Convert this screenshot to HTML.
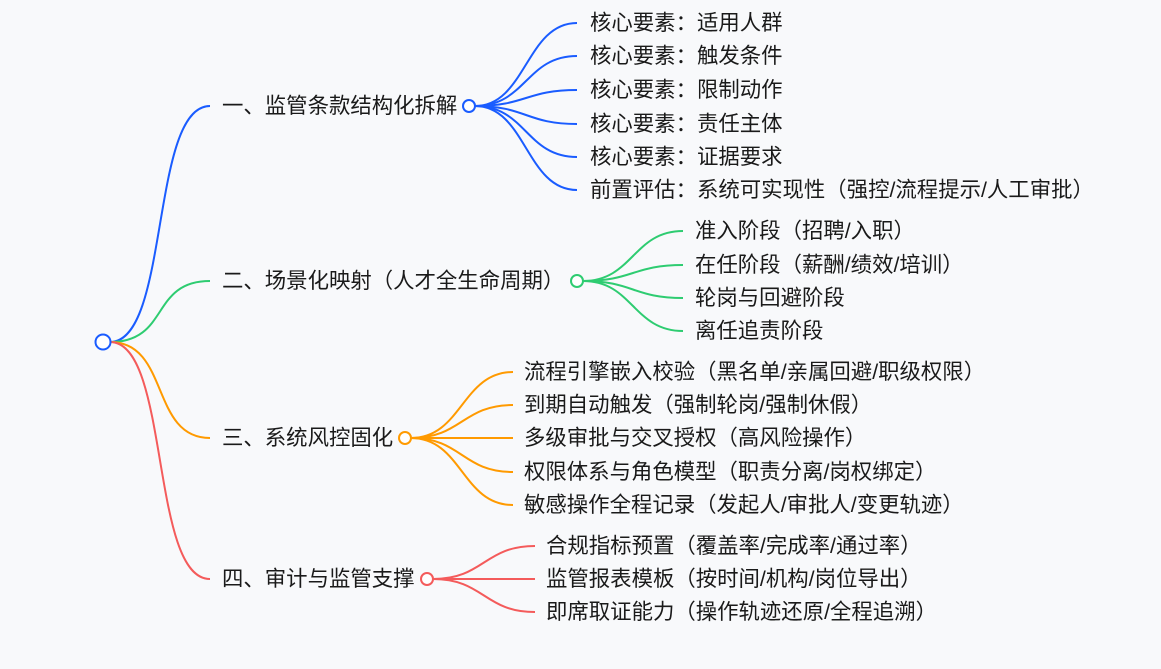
<!DOCTYPE html>
<html><head><meta charset="utf-8"><style>
html,body{margin:0;padding:0;background:#f8f9fb;}
svg{display:block}
text{font-family:"Liberation Sans","Noto Sans CJK SC",sans-serif;font-size:21.4px;fill:#1a1a1a;dominant-baseline:central;}
path{fill:none;stroke-width:2;}
.b{stroke:#1a5cff}.g{stroke:#2ecc71}.o{stroke:#ff9a00}.r{stroke:#f45b5b}
</style></head><body>
<svg width="1161" height="669" viewBox="0 0 1161 669">
<path class="b" d="M110,342 C170,342 150,106 210,106"/>
<path class="g" d="M110,342 C170,342 150,281 210,281"/>
<path class="o" d="M110,342 C170,342 150,438 210,438"/>
<path class="r" d="M110,342 C170,342 150,579 210,579"/>
<g class="b">
<path d="M475,106 C526,106 526,23 577,23"/>
<path d="M475,106 C526,106 526,56 577,56"/>
<path d="M475,106 C526,106 526,90 577,90"/>
<path d="M475,106 C526,106 526,124 577,124"/>
<path d="M475,106 C526,106 526,157 577,157"/>
<path d="M475,106 C526,106 526,190 577,190"/>
</g>
<g class="g">
<path d="M583,281 C633,281 633,231 683,231"/>
<path d="M583,281 C633,281 633,265 683,265"/>
<path d="M583,281 C633,281 633,298 683,298"/>
<path d="M583,281 C633,281 633,331 683,331"/>
</g>
<g class="o">
<path d="M411,438 C462,438 462,372 513,372"/>
<path d="M411,438 C462,438 462,405 513,405"/>
<path d="M411,438 C462,438 462,438 513,438"/>
<path d="M411,438 C462,438 462,472 513,472"/>
<path d="M411,438 C462,438 462,505 513,505"/>
</g>
<g class="r">
<path d="M433,579 C484,579 484,546 535,546"/>
<path d="M433,579 C484,579 484,579 535,579"/>
<path d="M433,579 C484,579 484,612 535,612"/>
</g>
<circle cx="103" cy="342" r="7.5" fill="#fff" stroke="#1a5cff" stroke-width="2"/>
<circle cx="469" cy="106" r="6" fill="#fff" stroke="#1a5cff" stroke-width="2"/>
<circle cx="577" cy="281" r="6" fill="#fff" stroke="#2ecc71" stroke-width="2"/>
<circle cx="405" cy="438" r="6" fill="#fff" stroke="#ff9a00" stroke-width="2"/>
<circle cx="427" cy="579" r="6" fill="#fff" stroke="#f45b5b" stroke-width="2"/>
<text x="222" y="106">一、监管条款结构化拆解</text>
<text x="222" y="281">二、场景化映射（人才全生命周期）</text>
<text x="222" y="438">三、系统风控固化</text>
<text x="222" y="579">四、审计与监管支撑</text>
<text x="590" y="23">核心要素：适用人群</text>
<text x="590" y="56">核心要素：触发条件</text>
<text x="590" y="90">核心要素：限制动作</text>
<text x="590" y="124">核心要素：责任主体</text>
<text x="590" y="157">核心要素：证据要求</text>
<text x="590" y="190">前置评估：系统可实现性（强控/流程提示/人工审批）</text>
<text x="695" y="231">准入阶段（招聘/入职）</text>
<text x="695" y="265">在任阶段（薪酬/绩效/培训）</text>
<text x="695" y="298">轮岗与回避阶段</text>
<text x="695" y="331">离任追责阶段</text>
<text x="524" y="372">流程引擎嵌入校验（黑名单/亲属回避/职级权限）</text>
<text x="524" y="405">到期自动触发（强制轮岗/强制休假）</text>
<text x="524" y="438">多级审批与交叉授权（高风险操作）</text>
<text x="524" y="472">权限体系与角色模型（职责分离/岗权绑定）</text>
<text x="524" y="505">敏感操作全程记录（发起人/审批人/变更轨迹）</text>
<text x="546" y="546">合规指标预置（覆盖率/完成率/通过率）</text>
<text x="546" y="579">监管报表模板（按时间/机构/岗位导出）</text>
<text x="546" y="612">即席取证能力（操作轨迹还原/全程追溯）</text>
</svg>
</body></html>
